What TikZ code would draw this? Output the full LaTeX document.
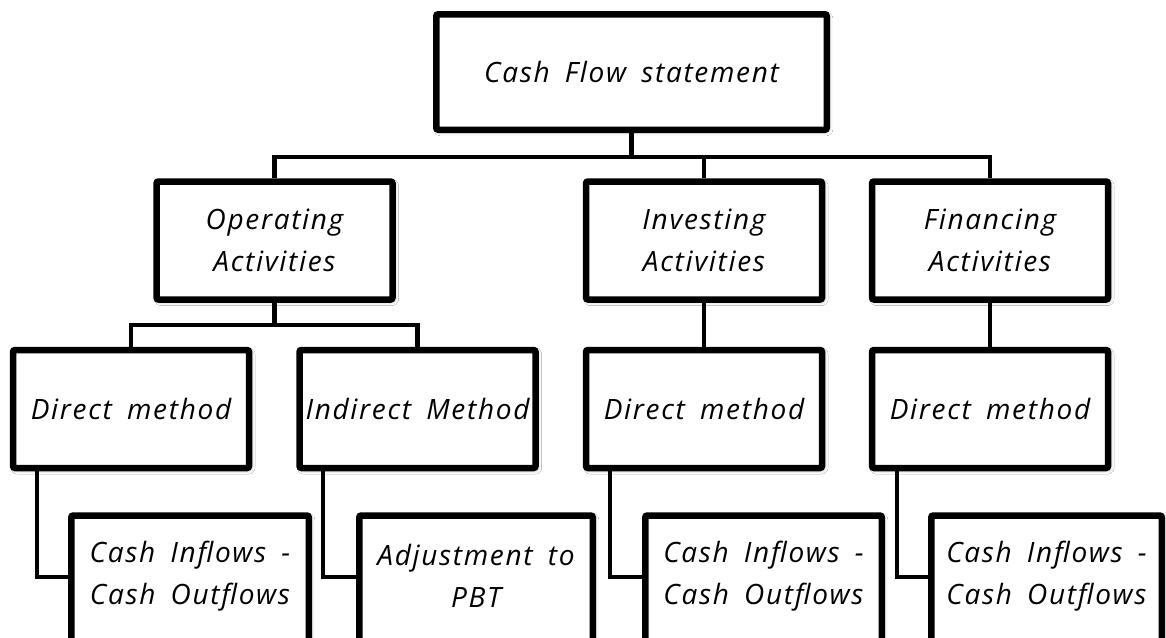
\documentclass[tikz,border=0pt]{standalone}
\usepackage{fontspec}
\setmainfont{Open Sans}[WordSpace=1.7, LetterSpace=6]
\usetikzlibrary{shadows.blur}
\tikzset{
  lbl/.style={font=\itshape\fontsize{28}{42}\selectfont, align=center},
  box/.style={draw=black, line width=6.5pt, rounded corners=2pt, fill=white,
    inner sep=0pt, lbl,
    blur shadow={shadow xshift=2pt, shadow yshift=-2pt, shadow blur radius=4pt, shadow opacity=30}},
  topbox/.style={box, minimum width=390.5pt, minimum height=115.5pt},
  midbox/.style={box, minimum width=236pt, minimum height=118pt},
  lowbox/.style={box, minimum height=140pt},
  conn/.style={draw=black, line width=4.3pt}
}
\begin{document}
\begin{tikzpicture}[x=1pt, y=-1pt]
\useasboundingbox (0,0) rectangle (1166,637);
\clip (0,0) rectangle (1166,637);
\fill[white] (0,0) rectangle (1166,637);

\coordinate (busA) at (0,157);
\coordinate (busB) at (0,325);
\coordinate (busC) at (0,577);

% boxes
\node[topbox] (top) at (631.5,72) {Cash Flow statement};

\node[midbox] (op)  at (274.5,240.5) {Operating\\Activities};
\node[midbox] (inv) at (704,240.5) {Investing\\Activities};
\node[midbox] (fin) at (990,240.5) {Financing\\Activities};

\node[midbox] (d1)  at (131,409) {Direct method};
\node[midbox] (ind) at (417.5,409) {Indirect Method};
\node[midbox] (d2)  at (704,409) {Direct method};
\node[midbox] (d3)  at (990,409) {Direct method};

\node[lowbox, minimum width=237.5pt] (a) at (190,585.5) {};
\node[lbl] (at) at (190,576) {Cash Inflows -\\Cash Outflows};
\node[lowbox, minimum width=233.5pt] (b) at (476,585.5) {};
\node[lbl] (bt) at (476,576) {Adjustment to\\PBT};
\node[lowbox, minimum width=236.5pt] (c) at (763.5,585.5) {};
\node[lbl] (ct) at (763.5,576) {Cash Inflows -\\Cash Outflows};
\node[lowbox, minimum width=230.5pt] (d) at (1046.5,585.5) {};
\node[lbl] (dt) at (1046.5,576) {Cash Inflows -\\Cash Outflows};

% connectors
\draw[conn] (top.south) -- (top.south |- busA);
\draw[conn] (op.north) -- (op.north |- busA) -- (fin.north |- busA) -- (fin.north);
\draw[conn] (inv.north) -- (inv.north |- busA);

\draw[conn] (op.south) -- (op.south |- busB);
\draw[conn] (d1.north) -- (d1.north |- busB) -- (ind.north |- busB) -- (ind.north);
\draw[conn] (inv.south) -- (d2.north);
\draw[conn] (fin.south) -- (d3.north);

\draw[conn] ([xshift=27pt]d1.south west) |- (a.west |- busC);
\draw[conn] ([xshift=27pt]ind.south west) |- (b.west |- busC);
\draw[conn] ([xshift=27pt]d2.south west) |- (c.west |- busC);
\draw[conn] ([xshift=28pt]d3.south west) |- (d.west |- busC);
\end{tikzpicture}
\end{document}
